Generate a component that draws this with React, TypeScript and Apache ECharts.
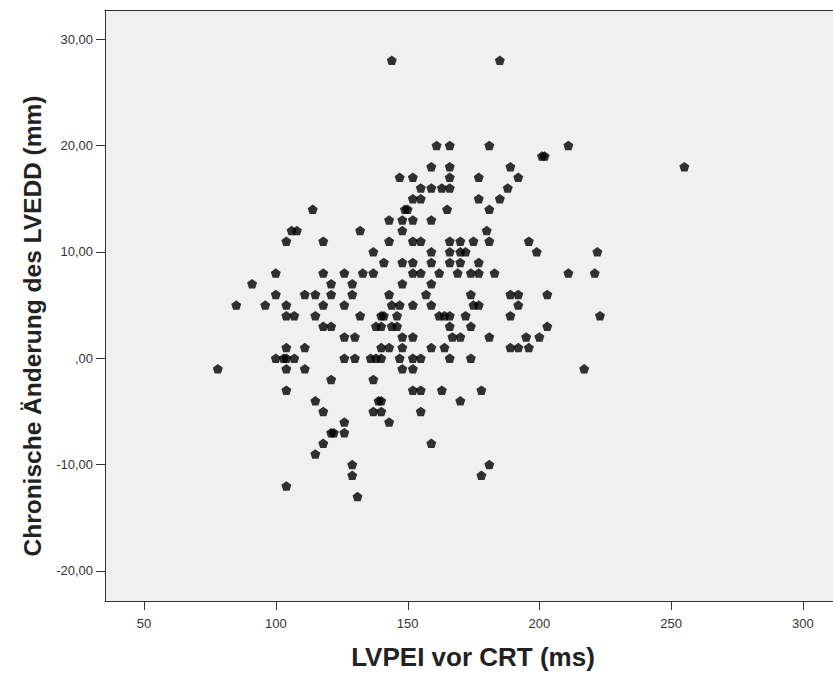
import React, { useEffect, useRef } from "react";
import * as echarts from "echarts";

// Each row: [y value, ...x values]
const rows: number[][] = [
  [28, 144, 185],
  [20, 161, 166, 181, 211],
  [19, 201, 202],
  [18, 159, 166, 189, 255],
  [17, 147, 152, 166, 177, 192],
  [16, 155, 159, 163, 166, 188],
  [15, 152, 155, 177, 185],
  [14, 114, 149, 150, 165, 181],
  [13, 143, 148, 152, 159],
  [12, 106, 108, 132, 148, 180],
  [11, 104, 118, 143, 152, 155, 166, 170, 175, 181, 196],
  [10, 137, 159, 166, 170, 172, 199, 222],
  [9, 141, 148, 152, 159, 166, 170, 177],
  [8, 100, 118, 126, 133, 137, 152, 155, 162, 169, 174, 177, 183, 211, 221],
  [7, 91, 121, 129, 148, 159],
  [6, 100, 111, 115, 121, 129, 143, 157, 174, 189, 192, 203],
  [5, 85, 96, 104, 118, 126, 144, 147, 152, 159, 175, 177, 192],
  [4, 104, 107, 115, 132, 140, 141, 146, 162, 164, 166, 172, 189, 223],
  [3, 118, 121, 138, 140, 144, 146, 166, 174, 203],
  [2, 126, 130, 148, 152, 167, 170, 181, 195, 200],
  [1, 104, 111, 140, 143, 148, 159, 164, 189, 192, 196],
  [0, 100, 103, 104, 107, 126, 130, 136, 138, 140, 147, 152, 155, 166, 174],
  [-1, 78, 104, 111, 148, 152, 217],
  [-2, 121, 137],
  [-3, 104, 152, 155, 163, 178],
  [-4, 115, 139, 140, 170],
  [-5, 118, 137, 140, 155],
  [-6, 126, 143],
  [-7, 121, 122, 126],
  [-8, 118, 159],
  [-9, 115],
  [-10, 129, 181],
  [-11, 129, 178],
  [-12, 104],
  [-13, 131],
];

const xTicks = [50, 100, 150, 200, 250, 300];
const yTicks = [-20, -10, 0, 10, 20, 30];
const xTitle = "LVPEI vor CRT (ms)";
const yTitle = "Chronische Änderung des LVEDD (mm)";

const points: number[][] = [];
rows.forEach((r) => {
  for (let i = 1; i < r.length; i++) points.push([r[i], r[0]]);
});

const pentagon =
  "path://M0,-1 L0.951,-0.309 L0.588,0.809 L-0.588,0.809 L-0.951,-0.309 Z";

const fmtY = (v: number) => {
  if (v === 0) return ",00";
  return v.toFixed(2).replace(".", ",");
};

export default function App() {
  const ref = useRef<HTMLDivElement>(null);
  useEffect(() => {
    if (!ref.current) return;
    const chart = echarts.init(ref.current, null, { renderer: "svg" });
    const font = "'Liberation Sans', Arial, sans-serif";
    const xMin = 35.2;
    const xMax = 311.4;
    const yMin = -22.82;
    const yMax = 32.73;
    const titles = [
      {
        type: "text",
        id: "xtitle",
        x: 473,
        y: 657,
        style: {
          text: xTitle,
          fontFamily: font,
          fontWeight: "bold",
          fontSize: 26,
          fill: "#222222",
          textAlign: "center",
          textVerticalAlign: "middle",
        },
      },
      {
        type: "text",
        id: "ytitle",
        x: 32,
        y: 326,
        rotation: Math.PI / 2,
        style: {
          text: yTitle,
          fontFamily: font,
          fontWeight: "bold",
          fontSize: 24.5,
          fill: "#222222",
          textAlign: "center",
          textVerticalAlign: "middle",
        },
      },
    ];
    chart.setOption({
      animation: false,
      backgroundColor: "#ffffff",
      grid: {
        left: 105,
        top: 10,
        right: 0,
        bottom: 72,
        show: true,
        backgroundColor: "#f0f0f0",
        borderWidth: 0,
      },
      xAxis: [
        {
          type: "value",
          position: "bottom",
          min: xMin,
          max: xMax,
          axisLine: { show: true, onZero: false, lineStyle: { color: "#333333" } },
          splitLine: { show: false },
          axisTick: { show: false },
          axisLabel: {
            customValues: xTicks,
            margin: 16,
            fontFamily: font,
            fontSize: 13,
            color: "#333333",
          },
        },
        {
          type: "value",
          position: "top",
          min: xMin,
          max: xMax,
          axisLine: { show: true, onZero: false, lineStyle: { color: "#333333" } },
          splitLine: { show: false },
          axisTick: { show: false },
          axisLabel: { show: false },
        },
      ],
      yAxis: {
        type: "value",
        min: yMin,
        max: yMax,
        axisLine: { show: true, onZero: false, lineStyle: { color: "#333333" } },
        splitLine: { show: false },
        axisTick: {
          show: true,
          length: 9,
          customValues: yTicks,
          lineStyle: { color: "#333333" },
        },
        axisLabel: {
          customValues: yTicks,
          margin: 12,
          fontFamily: font,
          fontSize: 13,
          color: "#333333",
          formatter: fmtY,
        },
      },
      graphic: titles,
      series: [
        {
          type: "scatter",
          xAxisIndex: 0,
          data: points,
          symbol: pentagon,
          symbolSize: [10, 9.5],
          itemStyle: { color: "#000000" },
        },
      ],
    });
    // x-axis ticks placed through the axis scale
    const tickLines = xTicks.map((v, i) => {
      const p = chart.convertToPixel({ xAxisIndex: 0, yAxisIndex: 0 }, [v, yMin]) as number[];
      const x = Math.round(p[0]) + 0.5;
      return {
        type: "line",
        id: "xtick" + i,
        z: 100,
        shape: { x1: x, y1: p[1], x2: x, y2: p[1] + 9 },
        style: { stroke: "#333333", lineWidth: 1 },
      };
    });
    chart.setOption({ graphic: [...titles, ...tickLines] });
    return () => chart.dispose();
  }, []);
  return (
    <div
      ref={ref}
      style={{ position: "fixed", left: 0, top: 0, width: 833, height: 673 }}
    />
  );
}
